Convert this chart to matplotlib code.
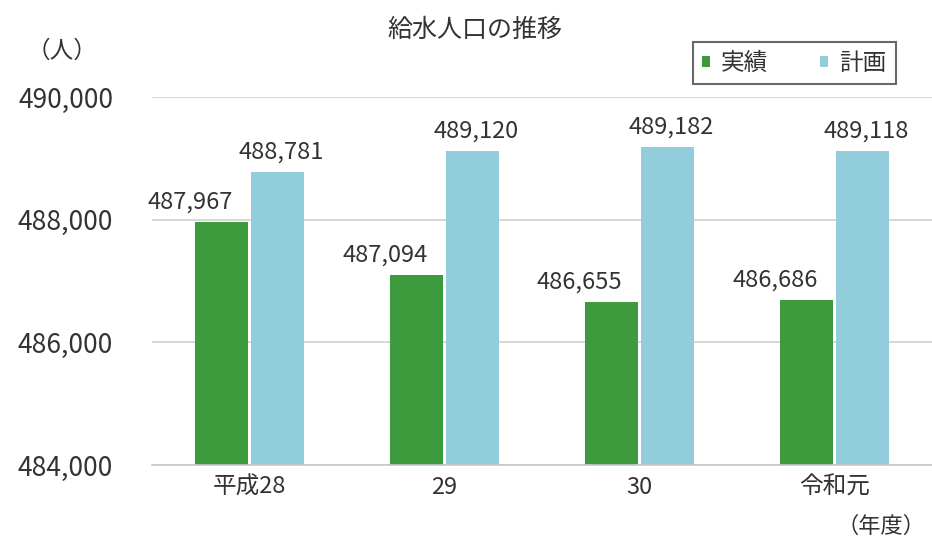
import matplotlib.pyplot as plt
import numpy as np

plt.rcParams['font.family'] = ['Noto Sans CJK JP', 'DejaVu Sans']

# data
categories = ['平成28', '29', '30', '令和元']
actual = [487967, 487094, 486655, 486686]   # 実績
plan = [488781, 489120, 489182, 489118]     # 計画
yticks = [484000, 486000, 488000, 490000]

green = '#3d9b3d'
blue = '#92cddc'
text_col = '#333333'

fig = plt.figure(figsize=(9.32, 5.42), dpi=100)
ax = fig.add_axes([0.163, 0.142, 0.837, 0.679])

x = np.arange(len(categories))
w = 0.27
b1 = ax.bar(x - w / 2 - 0.008, [a - yticks[0] for a in actual], w, bottom=yticks[0], color=green)
b2 = ax.bar(x + w / 2 + 0.008, [p - yticks[0] for p in plan], w, bottom=yticks[0], color=blue)

ax.set_xlim(-0.5, len(categories) - 0.5)
ax.set_ylim(yticks[0], yticks[-1])
ax.set_yticks(yticks)
ax.set_yticklabels([f'{v:,}' for v in yticks], fontsize=19, color=text_col)
ax.set_xticks(x)
ax.set_xticklabels(categories, fontsize=17, color=text_col)
ax.tick_params(axis='both', length=0, pad=8)
ax.tick_params(axis='y', pad=28)

ax.grid(axis='y', color='#d0d0d0', linewidth=1.2)
ax.set_axisbelow(True)
for s in ['top', 'right', 'left']:
    ax.spines[s].set_visible(False)
ax.spines['bottom'].set_color('#c8c8c8')
ax.spines['bottom'].set_linewidth(1.2)

for i in range(len(categories)):
    ax.annotate(f'{actual[i]:,}', (x[i] - w / 2, actual[i]), xytext=(-24, 6),
                textcoords='offset points', ha='center', va='bottom',
                fontsize=17, color=text_col)
    ax.annotate(f'{plan[i]:,}', (x[i] + w / 2, plan[i]), xytext=(4, 6),
                textcoords='offset points', ha='center', va='bottom',
                fontsize=17, color=text_col)

fig.text(0.51, 0.945, '給水人口の推移', ha='center', va='center', fontsize=18, color=text_col)
fig.text(0.067, 0.905, '（人）', ha='center', va='center', fontsize=17, color=text_col)
fig.text(0.945, 0.028, '（年度）', ha='center', va='center', fontsize=16, color=text_col)

leg = fig.legend([b1, b2], ['実績', '計画'], loc='center', bbox_to_anchor=(0.852, 0.883),
                 ncol=2, fontsize=17, frameon=True, fancybox=False, handlelength=0.35,
                 handleheight=0.35, handletextpad=0.45, columnspacing=2.2,
                 borderpad=0.4, borderaxespad=0)
leg.get_frame().set_edgecolor('#444444')
leg.get_frame().set_linewidth(1.5)
for t in leg.get_texts():
    t.set_color(text_col)

fig.savefig('out.png', dpi=100)
